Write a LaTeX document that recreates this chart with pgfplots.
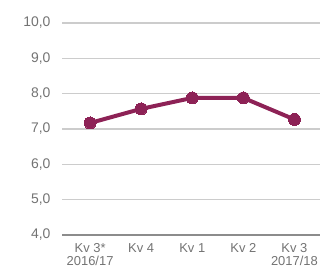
\documentclass[border=0pt]{standalone}
\usepackage{fontspec}
\setmainfont{Liberation Sans}
\usepackage{pgfplots}
\pgfplotsset{compat=1.18}
\definecolor{lineC}{RGB}{141,34,86}
\definecolor{gridC}{RGB}{204,204,204}
\definecolor{axisC}{RGB}{140,140,140}
\definecolor{textC}{RGB}{115,115,115}
\begin{document}
\begin{tikzpicture}
\begin{axis}[
  scale only axis,
  width=258bp, height=212bp,
  xmin=-0.55, xmax=4.5,
  ymin=4, ymax=10,
  ytick={4,5,6,7,8,9,10},
  xtick={0,1,2,3,4},
  xticklabels={{Kv 3*\\2016/17},{Kv 4},{Kv 1},{Kv 2},{Kv 3\\2017/18}},
  xticklabel style={align=center, text=textC, font=\fontsize{13}{12.5}\selectfont, yshift=-5bp},
  yticklabel style={text=textC, font=\fontsize{14}{15}\selectfont, xshift=-8bp},
  /pgf/number format/.cd, fixed, fixed zerofill, precision=1, use comma, assume math mode=true,
  /pgfplots/.cd,
  ymajorgrids,
  grid style={gridC, line width=1.2pt},
  axis x line*=bottom,
  axis y line*=left,
  y axis line style={draw=none},
  x axis line style={axisC, line width=1.5pt, -},
  major tick length=0pt,
  clip=false,
]
\addplot[lineC, line width=4bp, mark=*, mark size=6bp, mark options={fill=lineC, draw=lineC, line width=0pt}]
  coordinates {(0,7.17) (1,7.57) (2,7.88) (3,7.88) (4,7.27)};
\end{axis}
\path (current axis.south west) ++(-62bp,-36bp) coordinate (bbA);
\path (current axis.north east) ++(3bp,23bp) coordinate (bbB);
\path (bbA) rectangle (bbB);
\end{tikzpicture}
\end{document}
